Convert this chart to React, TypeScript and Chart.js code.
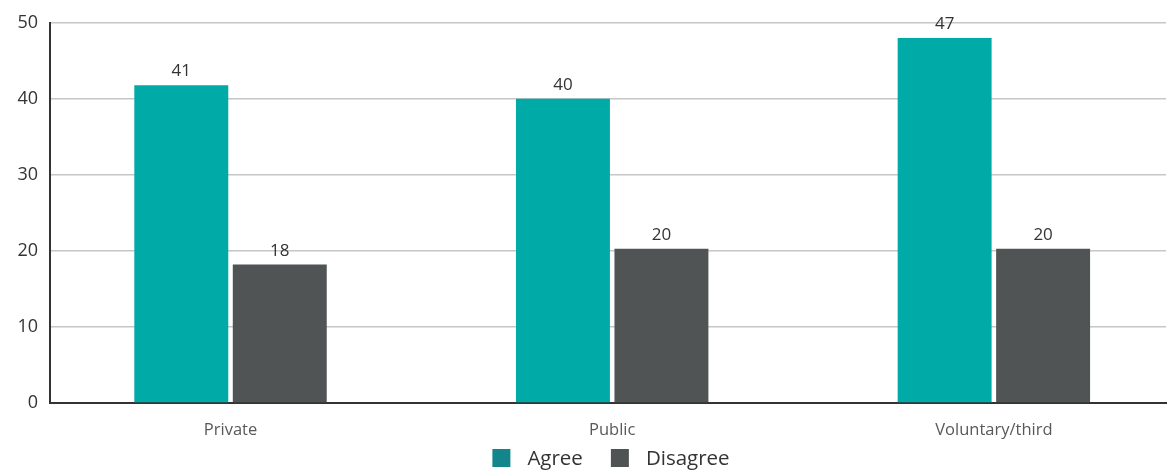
import React, { useEffect, useRef } from "react";
import { Chart, registerables } from "chart.js";

Chart.register(...registerables);

const categories = ["Private", "Public", "Voluntary/third"];
const seriesNames = ["Agree", "Disagree"];
const agreeValues = [41.8, 40, 48];
const disagreeValues = [18.2, 20.3, 20.3];
const agreeLabels = ["41", "40", "47"];
const disagreeLabels = ["18", "20", "20"];
const yTicks = [0, 10, 20, 30, 40, 50];

const FONT = "'Open Sans', 'Noto Sans', sans-serif";
const BAR_COLORS = ["#00aaa7", "#505455"];
const LEGEND_COLORS = ["#12868b", "#4f5354"];

const valueLabelPlugin = {
  id: "valueLabels",
  afterDatasetsDraw(chart: any) {
    const ctx = chart.ctx;
    ctx.save();
    ctx.font = `17px ${FONT}`;
    ctx.fillStyle = "#333333";
    ctx.textAlign = "center";
    ctx.textBaseline = "bottom";
    chart.data.datasets.forEach((ds: any, di: number) => {
      const meta = chart.getDatasetMeta(di);
      const texts = di === 0 ? agreeLabels : disagreeLabels;
      meta.data.forEach((bar: any, i: number) => {
        ctx.fillText(texts[i], bar.x, bar.y - 5);
      });
    });
    ctx.restore();
  },
};

const bottomLegendPlugin = {
  id: "bottomLegend",
  afterDraw(chart: any) {
    const ctx = chart.ctx;
    const area = chart.chartArea;
    ctx.save();
    ctx.font = `20.5px ${FONT}`;
    ctx.textBaseline = "middle";
    ctx.textAlign = "left";
    const box = 18;
    const gap = 17;
    const itemGap = 28;
    const names = chart.data.datasets.map((d: any) => d.label);
    const widths = names.map((n: string) => box + gap + ctx.measureText(n).width);
    const total = widths.reduce((a: number, b: number) => a + b, 0) + itemGap * (names.length - 1);
    let x = (area.left + area.right) / 2 - total / 2 + 3;
    const cy = 458;
    names.forEach((n: string, i: number) => {
      ctx.fillStyle = LEGEND_COLORS[i];
      ctx.fillRect(x, cy - box / 2, box, box);
      ctx.fillStyle = "#333333";
      ctx.fillText(n, x + box + gap, cy + 1);
      x += widths[i] + itemGap;
    });
    ctx.restore();
  },
};

export default function App() {
  const ref = useRef<HTMLCanvasElement>(null);
  useEffect(() => {
    if (!ref.current) return;
    const chart = new Chart(ref.current, {
      type: "bar",
      data: {
        datasets: [
          {
            label: seriesNames[0],
            data: agreeValues.map((v, i) => ({ x: i, y: v })),
            backgroundColor: BAR_COLORS[0],
            categoryPercentage: 0.516,
            barPercentage: 0.954,
          },
          {
            label: seriesNames[1],
            data: disagreeValues.map((v, i) => ({ x: i, y: v })),
            backgroundColor: BAR_COLORS[1],
            categoryPercentage: 0.516,
            barPercentage: 0.954,
          },
        ],
      },
      options: {
        animation: false,
        responsive: true,
        maintainAspectRatio: false,
        layout: { padding: { top: 12, right: 2, left: 0, bottom: 27 } },
        scales: {
          x: {
            type: "linear",
            offset: false,
            bounds: "data",
            min: -0.473,
            max: 2.451,
            grid: { display: false, drawTicks: false },
            border: { color: "#333333", width: 2 },
            afterBuildTicks: (scale: any) => {
              scale.ticks = categories.map((_, i) => ({ value: i }));
            },
            afterFit: (scale: any) => {
              scale.height = 40;
            },
            ticks: {
              font: { family: FONT, size: 16.5 },
              color: "#595959",
              padding: 17,
              autoSkip: false,
              maxRotation: 0,
              callback: (v: any) => categories[v] ?? "",
            },
          },
          y: {
            min: 0,
            max: 50,
            afterBuildTicks: (scale: any) => {
              scale.ticks = yTicks.map((v) => ({ value: v }));
            },
            afterFit: (scale: any) => {
              scale.width = 50;
            },
            grid: { color: "#c6c6c6", lineWidth: 1.5, drawTicks: false },
            border: { color: "#333333", width: 2 },
            ticks: {
              font: { family: FONT, size: 18 },
              color: "#333333",
              padding: 12,
            },
          },
        },
        plugins: {
          tooltip: { enabled: false },
          legend: { display: false },
        },
      },
      plugins: [valueLabelPlugin, bottomLegendPlugin],
    } as any);
    return () => chart.destroy();
  }, []);
  return (
    <div style={{ position: "absolute", left: 0, top: 0, width: 1168, height: 470 }}>
      <canvas ref={ref} />
    </div>
  );
}
